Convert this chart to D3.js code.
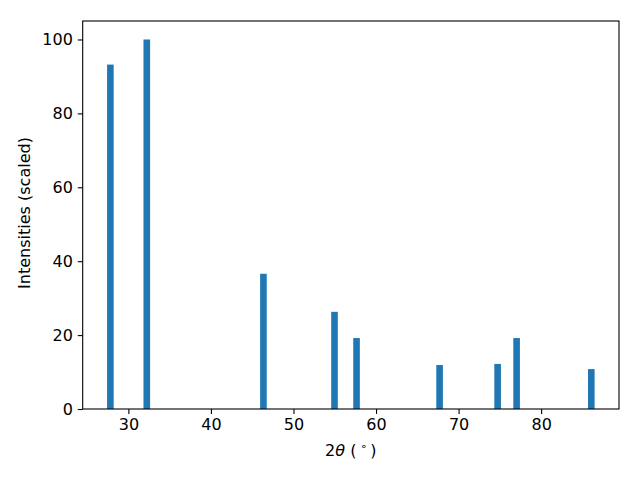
<!DOCTYPE html>
<html>
<head>
<meta charset="utf-8">
<script src="https://cdn.jsdelivr.net/npm/d3@7"></script>
<style>
  body { margin: 0; background: #fff; }
  svg text { font-family: "DejaVu Sans", sans-serif; }
</style>
</head>
<body>
<div id="chart-area"></div>
<script>
// Peak positions (2theta) and scaled intensities
let angles = [27.82, 32.23, 46.36, 54.97, 57.64, 67.70, 74.73, 77.03, 86.08];
let intensities = [93.2, 100, 36.6, 26.3, 19.2, 11.9, 12.2, 19.2, 10.8];
let xTicks = [30, 40, 50, 60, 70, 80];
let yTicks = [0, 20, 40, 60, 80, 100];
let barWidth = 0.8;

let margin = {top: 21, right: 21, bottom: 71, left: 82.7};
let width = 640 - margin.left - margin.right,
    height = 480 - margin.top - margin.bottom;

let fontSize = "16px";

let svg = d3.select("#chart-area").append("svg")
    .attr("width", 640)
    .attr("height", 480)
    .append("g")
    .attr("transform", "translate(" + margin.left + "," + margin.top + ")");

// x limits like matplotlib: 5% margin around bar extents
let lo = d3.min(angles) - barWidth / 2,
    hi = d3.max(angles) + barWidth / 2,
    pad = (hi - lo) * 0.05;

let x = d3.scaleLinear()
    .domain([lo - pad, hi + pad])
    .range([0, width]);

let y = d3.scaleLinear()
    .domain([0, 105])
    .range([height, 0]);

// Bars
svg.selectAll(".bar")
    .data(angles)
    .enter().append("rect")
    .attr("class", "bar")
    .attr("x", d => x(d - barWidth / 2))
    .attr("width", d => x(d + barWidth / 2) - x(d - barWidth / 2))
    .attr("y", (d, i) => y(intensities[i]))
    .attr("height", (d, i) => y(0) - y(intensities[i]))
    .attr("fill", "#1f77b4");

// Axes
let xAxis = d3.axisBottom(x)
    .tickValues(xTicks)
    .tickSizeOuter(0)
    .tickSize(4.9)
    .tickPadding(4.9);

let yAxis = d3.axisLeft(y)
    .tickValues(yTicks)
    .tickSizeOuter(0)
    .tickSize(4.9)
    .tickPadding(4.9);

let xAxisGroup = svg.append("g")
    .attr("class", "x-axis axis")
    .attr("transform", "translate(0," + height + ")")
    .call(xAxis);

let yAxisGroup = svg.append("g")
    .attr("class", "y-axis axis")
    .call(yAxis);

svg.selectAll(".axis .domain").remove();
svg.selectAll(".axis line").attr("stroke", "#000").attr("stroke-width", 1.1);
svg.selectAll(".axis text")
    .attr("fill", "#000")
    .style("font-size", fontSize)
    .style("font-family", "DejaVu Sans, sans-serif");

// Frame
svg.append("rect")
    .attr("width", width)
    .attr("height", height)
    .attr("fill", "none")
    .attr("stroke", "#000")
    .attr("stroke-width", 1.1);

// Labels
let xlabel = svg.append("text")
    .attr("x", width / 2)
    .attr("y", height + 47)
    .attr("text-anchor", "middle")
    .style("font-size", fontSize);
xlabel.append("tspan").text("2");
xlabel.append("tspan").style("font-style", "italic").text("θ");
xlabel.append("tspan").text(" (");
xlabel.append("tspan").attr("dx", 3.5).attr("dy", -6).style("font-size", "11px").text("∘");
xlabel.append("tspan").attr("dx", 3.5).attr("dy", 6).text(")");

svg.append("text")
    .attr("transform", "translate(" + (-52.7) + "," + (height / 2 - 2) + ") rotate(-90)")
    .attr("text-anchor", "middle")
    .style("font-size", fontSize)
    .text("Intensities (scaled)");
</script>
</body>
</html>
